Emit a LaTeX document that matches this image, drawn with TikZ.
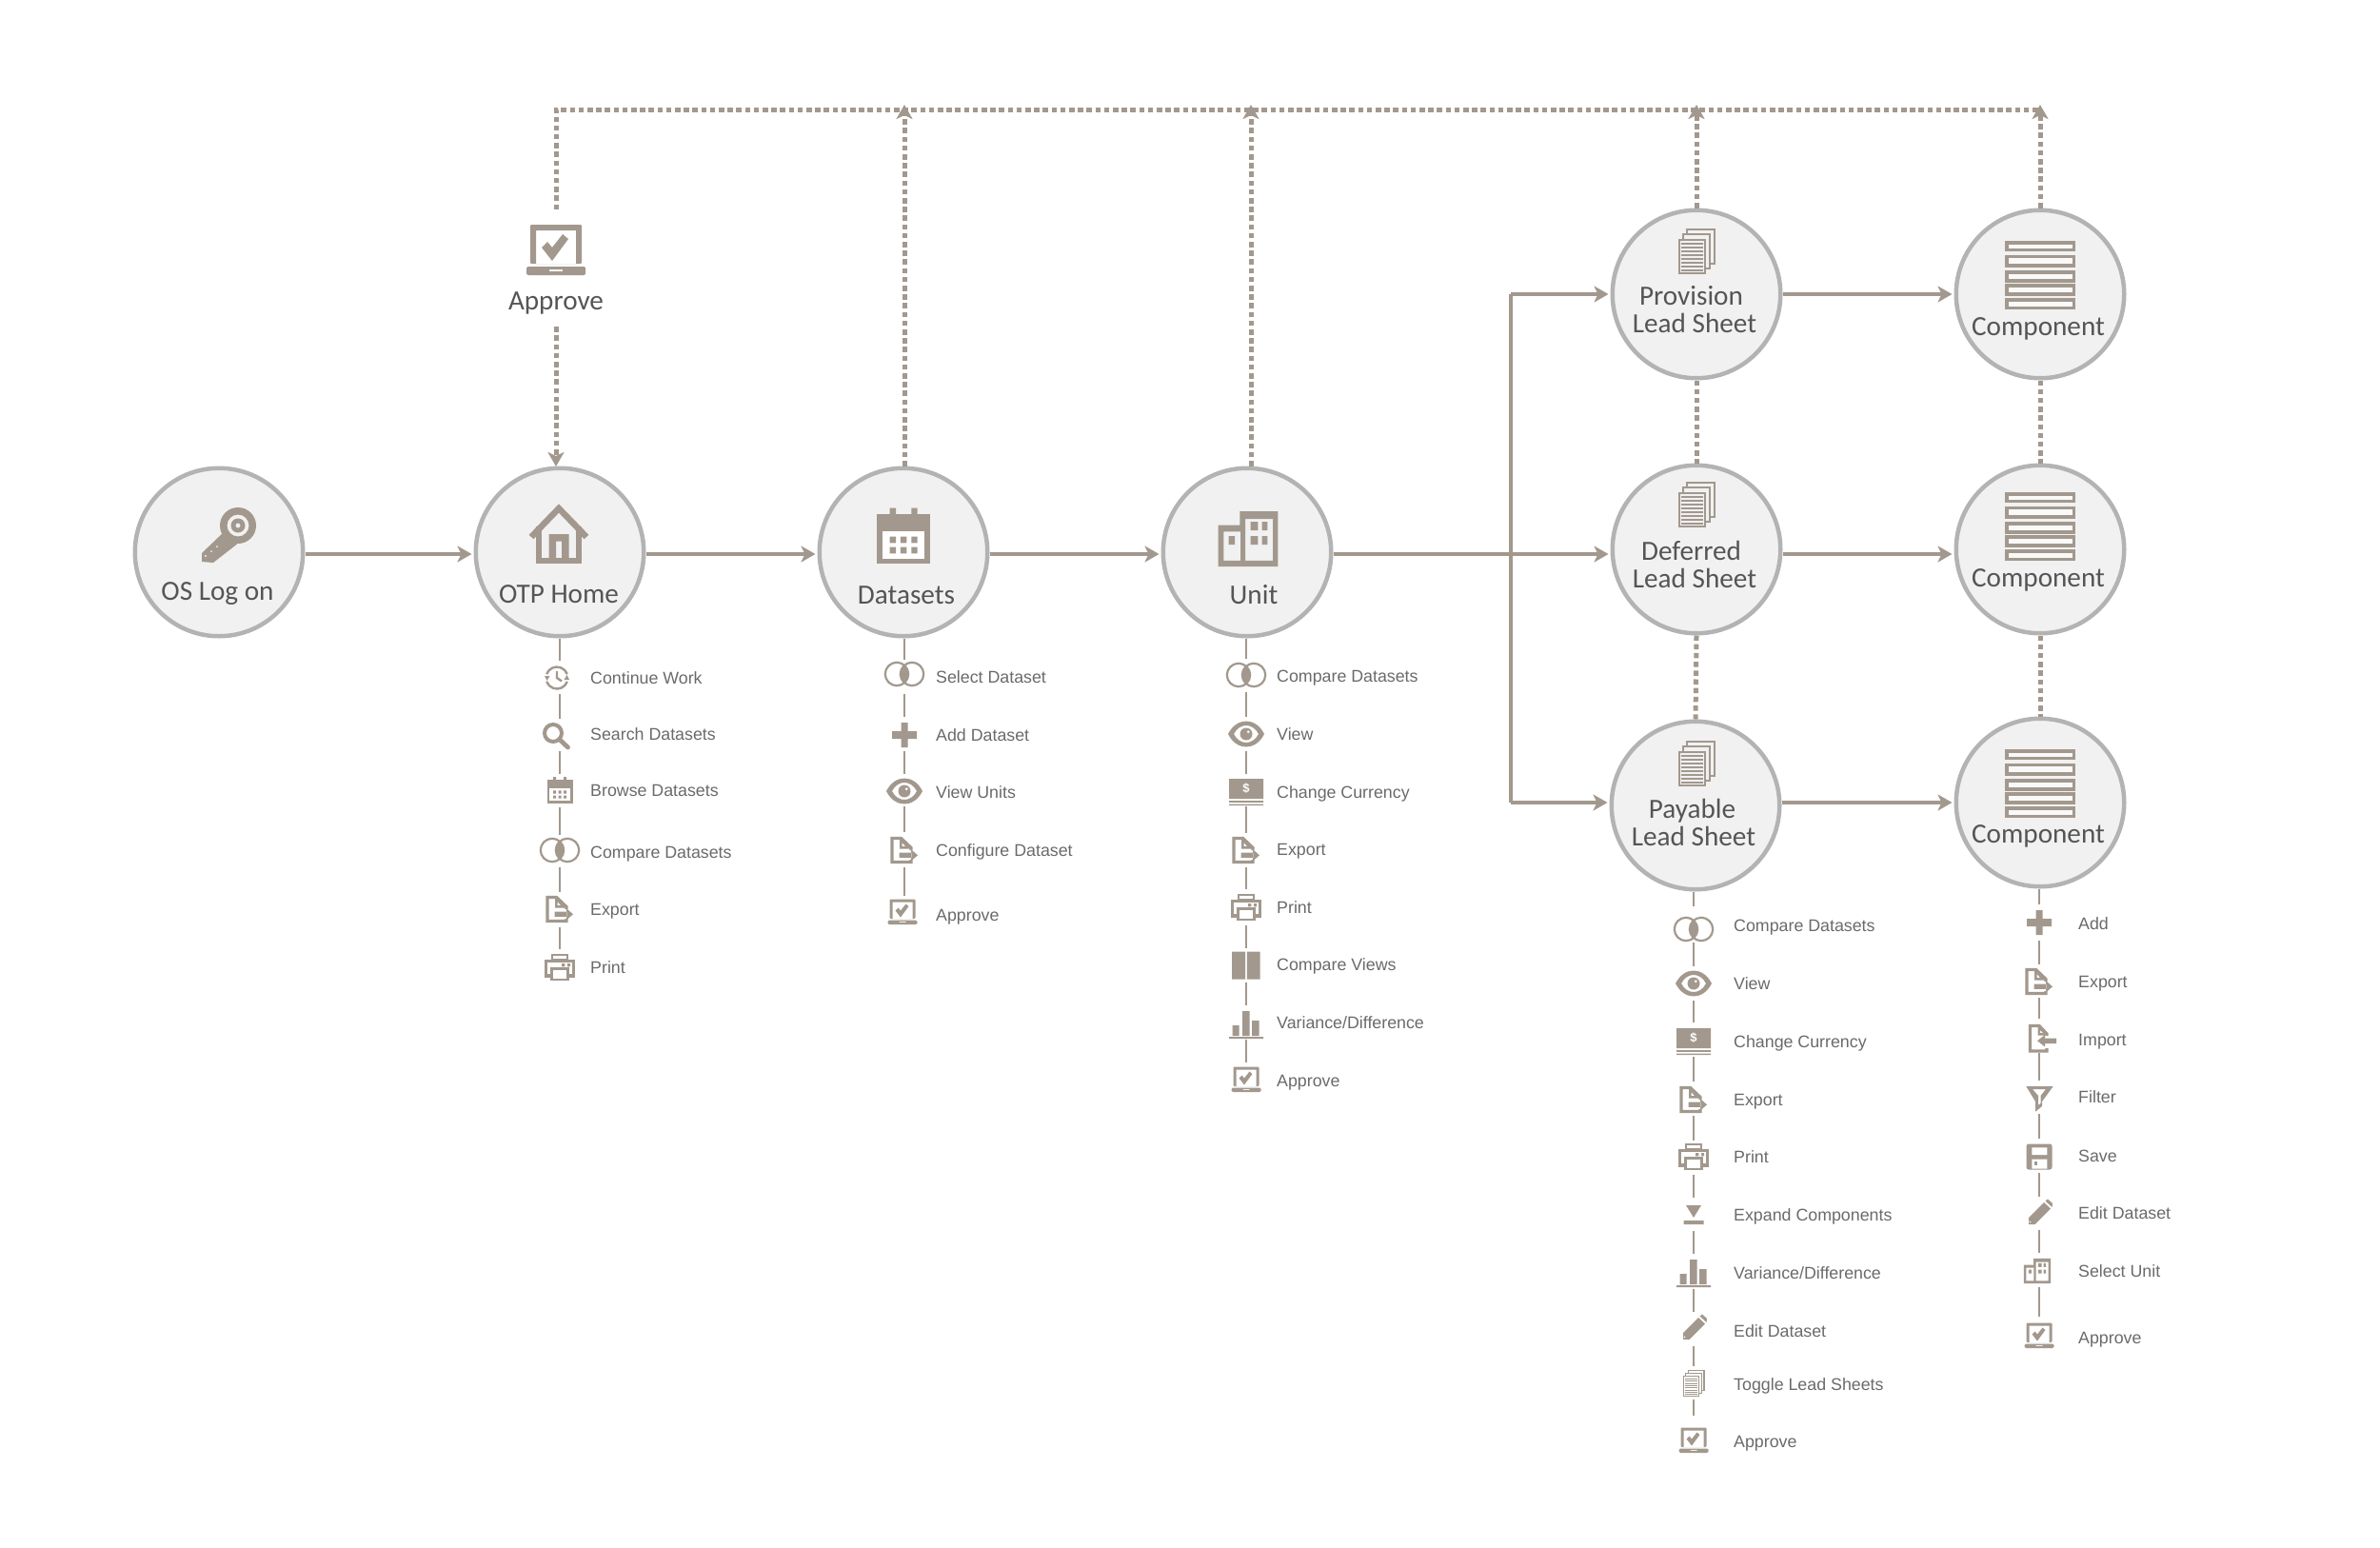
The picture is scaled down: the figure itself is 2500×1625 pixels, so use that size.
\documentclass[tikz,border=0pt]{standalone}
\usepackage{fontspec}
\setmainfont{Liberation Sans}
\newfontfamily\bigfam{Carlito}
\usetikzlibrary{arrows.meta}
\definecolor{icol}{HTML}{A2988D}
\definecolor{ring}{HTML}{B3B3B3}
\definecolor{disc}{HTML}{F1F1F1}
\definecolor{btxt}{HTML}{555555}
\definecolor{stxt}{HTML}{6A6A6A}
\tikzset{
  circ/.style={circle,draw=ring,fill=disc,line width=4.5pt,minimum size=176.5pt,inner sep=0pt},
  bigt/.style={text=btxt,font=\bigfam\fontsize{29.2}{29}\selectfont,align=center,inner sep=0pt},
  smallt/.style={text=stxt,font=\fontsize{17.8}{20}\selectfont,anchor=west,inner sep=0pt,text height=13pt,text depth=0pt},
  ibox/.style={rectangle,inner sep=0pt,outer sep=0pt,minimum width=1pt},
  solidarrow/.style={draw=icol,line width=3.8pt,-{Stealth[length=15pt,width=17pt,inset=4pt]},shorten >=2pt},
  solidline/.style={draw=icol,line width=3.8pt},
  dots/.style={draw=icol,line width=5pt,dash pattern=on 5.5pt off 3.7pt},
  dotsarrow/.style={dots,-{Stealth[length=15pt,width=17pt,inset=4pt]}},
  stem/.style={draw=icol,line width=2.3pt},
  ic/.style={fill=icol,draw=none},
  iceo/.style={fill=icol,draw=none,even odd rule},
  icl/.style={draw=icol,fill=none},
  clockic/.pic={
    \draw[icl,line width=2.4pt] ([shift={(-3,0)}]20:11.5) arc[start angle=20,end angle=160,radius=11.5];
    \draw[icl,line width=2.4pt] ([shift={(-3,0)}]200:11.5) arc[start angle=200,end angle=340,radius=11.5];
    \fill[ic] (-16,-2)--(-10.5,-2)--(-13.5,3)--cycle;
    \fill[ic] (10,2)--(4.5,2)--(7.5,-3)--cycle;
    \draw[icl,line width=2.4pt] (-3,-7)--(-3,0)--(2,3.5);
  },
  searchic/.pic={
    \draw[icl,line width=4pt] (-7,-3) circle[radius=9];
    \draw[icl,line width=4.8pt,line cap=round] (-0.5,3.5)--(8.5,12);
  },
  calic/.pic={
    \fill[ic] (-13.5,-11) rectangle (13.5,14);
    \fill[white] (-10.7,-2.5) rectangle (10.7,11.2);
    \fill[ic] (-6.9,0.3) rectangle (-3.8,3.5) (-1.5,0.3) rectangle (1.6,3.5) (4,0.3) rectangle (7,3.5)
      (-6.9,5.5) rectangle (-3.8,8.7) (-1.5,5.5) rectangle (1.6,8.7) (4,5.5) rectangle (7,8.7);
    \fill[ic] (-6.9,-14) rectangle (-3.8,-10.5) (4,-14) rectangle (7,-10.5);
  },
  vennic/.pic={
    \draw[icl,line width=2.2pt] (-8,0) circle[radius=12.2] (8,0) circle[radius=12.2];
    \begin{scope}\clip (-8,0) circle[radius=12.2]; \fill[ic] (8,0) circle[radius=12.2];\end{scope}
  },
  exportic/.pic={
    \draw[icl,line width=3.3pt,line join=miter] (7,0)--(7,-2.5)--(-3.5,-12.5)--(-13,-12.5)--(-13,12.5)--(7,12.5)--(7,10);
    \fill[iceo] (-5,-13)--(-2,-13)--(7,-3)--(7,-1.5)--(-5,-1.5)--cycle (-2.5,-8)--(-2.5,-4)--(1,-4)--cycle;
    \fill[ic] (-5.3,2.7) rectangle (7.5,7.9) (7,-0.8)--(14,5.3)--(7,11.4)--cycle;
  },
  importic/.pic={
    \draw[icl,line width=3.3pt] (8,-2)--(8,-4)--(0,-12.5)--(-9.5,-12.5)--(-9.5,14)--(8,14)--(8,11);
    \fill[iceo] (-1.5,-13)--(1,-13)--(8,-4)--(8,-2.5)--(-1.5,-2.5)--cycle (1,-8)--(1,-5)--(4,-5)--cycle;
    \fill[ic] (5,0.5) rectangle (18,6) (6,-3)--(-2,3.2)--(6,9.5)--cycle;
  },
  printic/.pic={
    \draw[icl,line width=2.4pt] (-8,-13) rectangle (8,-7.5);
    \draw[icl,line width=3.2pt] (-8.5,9)--(-14.5,9)--(-14.5,-6.5)--(14.5,-6.5)--(14.5,9)--(8.5,9);
    \draw[icl,line width=2.8pt] (-8.5,1.5) rectangle (8.5,13);
    \fill[ic] (2,-4) rectangle (5.3,-0.7) (8,-4) rectangle (11,-0.7);
  },
  plusic/.pic={\fill[ic] (-13,-4) rectangle (13,4) (-3.5,-13) rectangle (3.5,13);},
  eyeic/.pic={
    \fill[iceo] (-19,0) .. controls (-10,-18) and (10,-18) .. (19,0) .. controls (10,18) and (-10,18) .. (-19,0) --cycle
      (-13,0) .. controls (-7,-12) and (7,-12) .. (13,0) .. controls (7,12) and (-7,12) .. (-13,0) --cycle;
    \fill[ic] (0,0) circle[radius=6.5];
    \fill[disc] (2.2,-2.2) circle[radius=1.6];
  },
  curic/.pic={
    \fill[ic] (-18,-14) rectangle (18,7) (-18,9.2) rectangle (18,10.8) (-18,12.5) rectangle (18,14);
    \node[inner sep=0pt,text=white,font=\bfseries\fontsize{13}{13}\selectfont] (cursym) at (0,-4) {\$};
  },
  viewsic/.pic={\fill[ic] (-15,-14.5) rectangle (-1,14.5) (0.8,-14.5) rectangle (14.5,14.5);},
  varic/.pic={
    \fill[ic] (-14.5,1) rectangle (-7.5,12) (-4,-14) rectangle (3.5,12) (6,-4) rectangle (13.5,12) (-18,13) rectangle (18,15);
  },
  apvic/.pic={
    \fill[iceo] (-13.5,-13.5) [rounded corners=1.2pt] -- (13.5,-13.5) -- (13.5,7) -- (-13.5,7) -- cycle
      [sharp corners] (-10.5,-10.5) rectangle (10.5,7);
    \fill[iceo] (-15.5,8.5) [rounded corners=1.5pt] -- (15.5,8.5) -- (15.5,13) -- (-15.5,13) -- cycle
      [sharp corners] (-3.5,10) rectangle (3.5,11);
    \fill[ic] (-7.5,-1.5)--(-4.5,-4.5)--(-2,-1.5)--(3.5,-8.5)--(6.5,-6)--(-2,5.5)--cycle;
  },
  apvlic/.pic={\pic at (-2,0) {apvic};},
  expandic/.pic={\fill[ic] (-8,-10)--(8,-10)--(0,3)--cycle (-10.5,6) rectangle (10.5,10);},
  pencilic/.pic={
    \fill[ic] (-11,13)--(-11,6)--(5,-10)--(12,-3.5)--(-4.5,13)--cycle;
    \fill[ic] (6.5,-11.5)--(9,-13.5)--(14,-9)--(13.5,-5)--cycle;
    \fill[white] (-9.5,10.5) circle[radius=.9];
  },
  pics/stackic/.style 2 args={code={
    \draw[draw=icol,line width=#1pt,fill=#2] (-10,-23.5) rectangle (19,13);
    \draw[draw=icol,line width=#1pt,fill=#2] (-14.5,-18) rectangle (14,18);
    \draw[draw=icol,line width=#1pt,fill=#2] (-18.5,-12.5) rectangle (9,23);
    \foreach \yy in {-8,-4,0,4,8,12,16,20}{\draw[draw=icol,line width=#1*.75pt] (-16,\yy)--(6.5,\yy);}
  }},
  tgic/.pic={\pic[scale=.58] at (0,0) {stackic={1.1}{white}};},
  filteric/.pic={
    \fill[iceo] (-13.7,-13)--(14.7,-13)--(3,3)--(3,8)--(-4,13.7)--(-4,3)--cycle
      (-7,-10)--(7,-10)--(1.5,-3)--(1.5,5)--(-1,7)--(-1,-3)--cycle;
  },
  saveic/.pic={
    \fill[ic,rounded corners=2.5pt] (-13.5,-13.5) rectangle (13.5,13.5);
    \fill[white] (-7.7,-9.7) rectangle (8.3,-2) (-7.7,2.7) rectangle (8.3,12.7);
    \fill[ic] (-5,4.7) rectangle (-1.7,9.3);
  },
  bldgic/.pic={
    \fill[iceo] (-31.3,-14.3)--(-8.7,-14.3)--(-8.7,-29)--(31.3,-29)--(31.3,29)--(-31.3,29)--cycle
      (-25.7,-7.6) rectangle (-8,22.9) (-3,-21) rectangle (26,22.9)
      (-20.3,-3) rectangle (-13.9,6)
      (2.7,-18) rectangle (10.3,-9) (14.7,-18) rectangle (20.3,-9)
      (2.7,-3) rectangle (10.3,6) (14.7,-3) rectangle (20.3,6);
  },
  sbldgic/.pic={\pic[scale=.45] at (-2,0) {bldgic};},
  houseic/.pic={
    \draw[icol,line width=6.5pt,fill=none,line join=miter] (-29,3)--(0,-27)--(29,3);
    \draw[icol,line width=5.5pt,fill=none] (-21,-8)--(-21,28)--(21,28)--(21,-8);
    \fill[iceo] (-10.5,0) rectangle (10.5,28) (-3,7.5) rectangle (3,25);
  },
  keyic/.pic={
    \fill[iceo] (9,-10) circle[radius=19] (9,-10) circle[radius=11.5] (9,-10) circle[radius=7.5] (9,-10) circle[radius=2.6];
    \fill[ic] (-5,-4)--(-29,19)--(-29,28)--(-17,29)--(8,9.5)--(3,4)--(-1,7)--(-1,2)--cycle;
    \fill[disc] (-25,22) circle[radius=1.2] (-19,17) circle[radius=1] (-13,12) circle[radius=1];
  },
  compic/.pic={
    \foreach \ya/\yb in {-35.7/-24.7,-21.3/-8.3,-5/7.7,9.3/21.7,24.3/36}{
      \fill[ic] (-37,\ya) rectangle (37,\yb);
      \fill[white!60!disc] (-33.5,\ya+3.5) rectangle (33.5,\yb-3.5);
    }
  },
}
\newcommand{\mitem}[9]{%
  \node[ibox,minimum height={(#5)-(#4)}] (#1) at (#2,{((#4)+(#5))/2}) {};
  \pic at (#2,#3) {#6};
  \node[smallt] (#1t) at (#7,#8) {#9};
}
\begin{document}
\begin{tikzpicture}[x=1pt,y=-1pt]
\useasboundingbox (0,0) rectangle (2500,1625);
% main circles
\node[circ] (os) at (230,580) {};
\node[circ] (otp) at (588,580) {};
\node[circ] (ds) at (949,580) {};
\node[circ] (un) at (1310,580) {};
\node[circ] (pr) at (1782,309) {};
\node[circ] (df) at (1782,577) {};
\node[circ] (pa) at (1781,846) {};
\node[circ] (c1) at (2143,309) {};
\node[circ] (c2) at (2143,577) {};
\node[circ] (c3) at (2143,843) {};
% big icons
\pic at (241,562) {keyic};
\pic at (587,561) {houseic};
\pic[scale=2.1] at (949,563) {calic};
\pic at (1311,566) {bldgic};
\pic at (1782,264) {stackic={2}{disc}};
\pic at (1782,530) {stackic={2}{disc}};
\pic at (1782,802) {stackic={2}{disc}};
\pic at (2143,289) {compic};
\pic at (2143,553) {compic};
\pic at (2143,823) {compic};
% big labels
\node[bigt] (ost) at (228.5,624) {OS Log on};
\node[bigt] (otpt) at (587,624) {OTP Home};
\node[bigt] (dst) at (952,625) {Datasets};
\node[bigt] (unt) at (1317,625) {Unit};
\node[bigt] (prt) at (1780,325) {Provision\hspace*{7pt}\\Lead Sheet};
\node[bigt] (dft) at (1780,593) {Deferred\hspace*{7pt}\\Lead Sheet};
\node[bigt] (pat) at (1779,864) {Payable\hspace*{3pt}\\Lead Sheet};
\node[bigt] (c1t) at (2141,345) {Component};
\node[bigt] (c2t) at (2141,609) {Component};
\node[bigt] (c3t) at (2141,878) {Component};
% approve
\node[ibox,minimum width=62pt,minimum height=71pt] (apvi) at (584,255.5) {};
\pic[scale=2] at (584,263) {apvic};
\node[bigt,minimum height=50pt] (apvt) at (584,318) {Approve};
\coordinate (topl) at (584,115);
\coordinate (topr) at (2143,115);
\coordinate (bust) at (1587,309);
\coordinate (busb) at (1587,843);
\coordinate (busm) at (1587,582);
% solid arrows
\draw[solidarrow] (os.east |- 0,582) -- (otp.west |- 0,582);
\draw[solidarrow] (otp.east |- 0,582) -- (ds.west |- 0,582);
\draw[solidarrow] (ds.east |- 0,582) -- (un.west |- 0,582);
\draw[solidarrow] (un.east |- 0,582) -- (df.west |- 0,582);
\draw[solidline,line cap=square] (bust) -- (busb);
\draw[solidarrow] (bust) -- (pr.west);
\draw[solidarrow] (busb) -- (pa.west |- busb);
\draw[solidarrow] (pr.east) -- (c1.west);
\draw[solidarrow] (df.east |- 0,582) -- (c2.west |- 0,582);
\draw[solidarrow] (pa.east |- 0,843) -- (c3.west |- 0,843);
% dotted
\draw[dots] (apvi.north) -- (topl) -- (topr);
\draw[dotsarrow] (apvt.south) -- (584,490);
\draw[dotsarrow] ([xshift=1pt]ds.north) -- (950,110);
\draw[dotsarrow] ([xshift=4pt]un.north) -- (1314,110);
\draw[dotsarrow] (pr.north) -- (1782,110);
\draw[dotsarrow] (c1.north) -- (2143,110);
\draw[dots] (pr.south) -- (df.north);
\draw[dots] (df.south) -- (pa.north);
\draw[dots] (c1.south) -- (c2.north);
\draw[dots] (c2.south) -- (c3.north);
% OTP list
\mitem{ot1}{588}{712}{694}{729}{clockic}{620}{712}{Continue Work}
\mitem{ot2}{588}{773}{755}{789}{searchic}{620}{771}{Search Datasets}
\mitem{ot3}{588}{830}{813}{848}{calic}{620}{830}{Browse Datasets}
\mitem{ot4}{588}{893}{877}{911}{vennic}{620}{895}{Compare Datasets}
\mitem{ot5}{588}{955}{937}{974}{exportic}{620}{955}{Export}
\mitem{ot6}{588}{1016}{997}{1032}{printic}{620}{1016}{Print}
% Datasets list
\mitem{ds1}{950}{708}{693}{729}{vennic}{983}{711}{Select Dataset}
\mitem{ds2}{950}{772}{753}{789}{plusic}{983}{772}{Add Dataset}
\mitem{ds3}{950}{831}{813}{847}{eyeic}{983}{832}{View Units}
\mitem{ds4}{950}{893}{874}{911}{exportic}{983}{893}{Configure Dataset}
\mitem{ds5}{950}{958}{941}{972}{apvlic}{983}{961}{Approve}
% Unit list
\mitem{un1}{1309}{709}{692}{727}{vennic}{1341}{710}{Compare Datasets}
\mitem{un2}{1309}{771}{753}{789}{eyeic}{1341}{771}{View}
\mitem{un3}{1309}{832}{813}{847}{curic}{1341}{832}{Change Currency}
\mitem{un4}{1309}{893}{875}{911}{exportic}{1341}{892}{Export}
\mitem{un5}{1309}{953}{934}{972}{printic}{1341}{953}{Print}
\mitem{un6}{1309}{1014}{996}{1032}{viewsic}{1341}{1013}{Compare Views}
\mitem{un7}{1309}{1076}{1056}{1092}{varic}{1341}{1074}{Variance/Difference}
\mitem{un8}{1309}{1134}{1116}{1147}{apvic}{1341}{1135}{Approve}
% Payable list
\mitem{pa1}{1779}{976}{952}{990}{vennic}{1821}{972}{Compare Datasets}
\mitem{pa2}{1779}{1033}{1015}{1051}{eyeic}{1821}{1033}{View}
\mitem{pa3}{1779}{1094}{1074}{1110}{curic}{1821}{1094}{Change Currency}
\mitem{pa4}{1779}{1155}{1136}{1172}{exportic}{1821}{1155}{Export}
\mitem{pa5}{1779}{1215}{1198}{1234}{printic}{1821}{1215}{Print}
\mitem{pa6}{1779}{1276}{1258}{1293}{expandic}{1821}{1276}{Expand Components}
\mitem{pa7}{1779}{1337}{1317}{1354}{varic}{1821}{1337}{Variance/Difference}
\mitem{pa8}{1779}{1394}{1378}{1414}{pencilic}{1821}{1398}{Edit Dataset}
\mitem{pa9}{1779}{1453}{1435}{1470}{tgic}{1821}{1454}{Toggle Lead Sheets}
\mitem{pa10}{1779}{1513}{1487}{1526}{apvic}{1821}{1514}{Approve}
% Component list
\mitem{co1}{2142}{969}{950}{988}{plusic}{2183}{970}{Add}
\mitem{co2}{2142}{1031}{1013}{1048}{exportic}{2183}{1031}{Export}
\mitem{co3}{2142}{1090}{1070}{1106}{importic}{2183}{1092}{Import}
\mitem{co4}{2142}{1154}{1135}{1170}{filteric}{2183}{1152}{Filter}
\mitem{co5}{2142}{1215}{1196}{1232}{saveic}{2183}{1214}{Save}
\mitem{co6}{2142}{1273}{1257}{1292}{pencilic}{2183}{1274}{Edit Dataset}
\mitem{co7}{2142}{1335}{1316}{1352}{sbldgic}{2183}{1335}{Select Unit}
\mitem{co8}{2142}{1403}{1383}{1418}{apvic}{2183}{1405}{Approve}
% stems
\foreach \a/\b in {otp/ot1,ot1/ot2,ot2/ot3,ot3/ot4,ot4/ot5,ot5/ot6,
  ds/ds1,ds1/ds2,ds2/ds3,ds3/ds4,ds4/ds5,
  un/un1,un1/un2,un2/un3,un3/un4,un4/un5,un5/un6,un6/un7,un7/un8,
  pa/pa1,pa1/pa2,pa2/pa3,pa3/pa4,pa4/pa5,pa5/pa6,pa6/pa7,pa7/pa8,pa8/pa9,pa9/pa10,
  c3/co1,co1/co2,co2/co3,co3/co4,co4/co5,co5/co6,co6/co7,co7/co8}
  {\draw[stem] (\a.south -| \b.north) -- (\b.north);}
\end{tikzpicture}
\end{document}
